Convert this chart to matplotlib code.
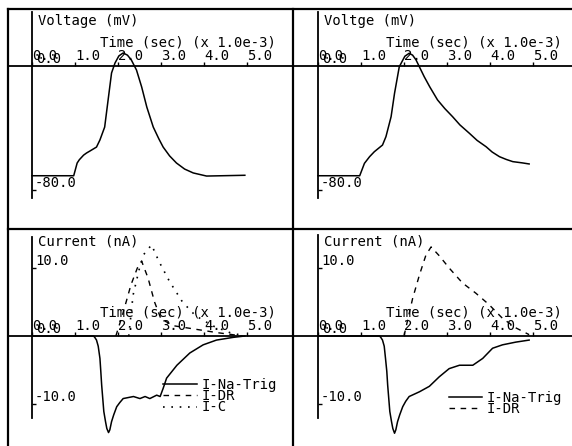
import numpy as np
import matplotlib
matplotlib.use("Agg")
import matplotlib.pyplot as plt
from matplotlib.lines import Line2D

plt.rcParams['font.family'] = ['DejaVu Sans Mono']
plt.rcParams['font.size'] = 10

# ---- data (time in ms, voltage in mV, current in nA) ----
t_v1 = [0.0, 0.97, 1.05, 1.1, 1.2, 1.27, 1.35, 1.5, 1.58, 1.69, 1.77, 1.85, 1.93, 2.02, 2.12,
        2.22, 2.31, 2.43, 2.55, 2.67, 2.82, 2.95, 3.05, 3.2, 3.36, 3.55, 3.75, 4.06, 4.95]
v1 = [-70.8, -70.8, -62.6, -60.5, -57.5, -56.1, -54.8, -52.3, -47.7, -39.4, -21.9, -4.5, 1.9,
      6.5, 8.4, 7.0, 3.9, -2.6, -13.5, -26.5, -39.4, -47.0, -52.3, -58.0, -62.6, -66.5, -69.0,
      -71.0, -70.5]

t_v2 = [0.0, 0.97, 1.08, 1.2, 1.31, 1.5, 1.58, 1.7, 1.78, 1.89, 2.02, 2.12, 2.2, 2.28, 2.47,
        2.6, 2.78, 2.95, 3.13, 3.3, 3.52, 3.7, 3.91, 4.05, 4.22, 4.38, 4.53, 4.75, 4.91]
v2 = [-70.8, -70.8, -62.8, -58.5, -55.3, -51.0, -45.6, -32.7, -17.6, -0.5, 6.3, 8.2, 7.0, 3.9,
      -6.9, -13.5, -21.9, -27.5, -32.7, -38.0, -43.4, -48.0, -52.1, -55.5, -58.5, -60.3, -61.7,
      -62.5, -63.2]

t_na1 = [0.0, 1.43, 1.46, 1.50, 1.54, 1.58, 1.60, 1.62, 1.67, 1.71, 1.74, 1.78, 1.81, 1.85,
         1.90, 1.97, 2.04, 2.12, 2.36, 2.51, 2.63, 2.74, 2.90, 2.98, 3.05, 3.13, 3.37, 3.67,
         3.98, 4.29, 4.68, 4.95]
na1 = [0.0, 0.0, -0.2, -0.6, -1.5, -3.3, -5.2, -7.2, -11.1, -12.6, -13.6, -14.2, -13.8, -12.6,
       -11.6, -10.4, -9.8, -9.2, -8.9, -9.2, -8.9, -9.2, -8.7, -8.9, -7.7, -6.2, -4.3, -2.5,
       -1.3, -0.6, -0.2, 0.0]
t_dr1 = [1.95, 2.1, 2.3, 2.45, 2.55, 2.7, 2.85, 3.0, 3.3, 3.8, 4.3, 4.9]
dr1 = [0.0, 3.0, 7.5, 10.0, 11.0, 8.5, 5.0, 2.5, 1.5, 1.0, 0.5, 0.0]
t_c1 = [2.25, 2.35, 2.5, 2.6, 2.78, 2.95, 3.2, 3.5, 3.8, 4.2, 4.6, 4.95]
c1 = [0.0, 6.0, 10.0, 12.0, 13.4, 11.0, 8.0, 5.0, 3.0, 1.5, 0.5, 0.0]

t_na2 = [0.0, 1.43, 1.46, 1.50, 1.54, 1.57, 1.60, 1.62, 1.67, 1.71, 1.74, 1.78, 1.81, 1.85,
         1.90, 1.97, 2.04, 2.12, 2.36, 2.59, 2.82, 3.05, 3.29, 3.6, 3.83, 4.06, 4.29, 4.6, 4.91]
na2 = [0.0, 0.0, -0.2, -0.6, -1.5, -3.3, -5.2, -7.2, -11.1, -12.6, -13.6, -14.3, -13.8, -12.6,
       -11.6, -10.4, -9.6, -8.9, -8.2, -7.4, -6.0, -4.8, -4.3, -4.3, -3.3, -1.8, -1.3, -0.9,
       -0.6]
t_dr2 = [2.0, 2.2, 2.36, 2.51, 2.63, 2.82, 3.05, 3.36, 3.67, 3.98, 4.29, 4.6, 4.91]
dr2 = [0.0, 5.5, 9.0, 11.9, 13.1, 11.8, 10.0, 7.8, 6.3, 4.6, 2.6, 1.2, 0.2]

x_ticks = [0.0, 1.0, 2.0, 3.0, 4.0, 5.0]
v_ticks = [-80.0]
i_ticks = [10.0, -10.0]

W, H = 572, 446
fig = plt.figure(figsize=(W / 100, H / 100), dpi=100)

PXMS = 43.0  # pixels per ms on the time axis


def make_ax(x0, x1, y0, y1, xaxis_px, zero_px, px_per_unit, ybounds_px):
    ax = fig.add_axes([x0 / W, 1 - y1 / H, (x1 - x0) / W, (y1 - y0) / H])
    ax.set_xlim((x0 - xaxis_px) / PXMS, (x1 - xaxis_px) / PXMS)
    ax.set_ylim((zero_px - y1) / px_per_unit, (zero_px - y0) / px_per_unit)
    ax.patch.set_visible(False)
    for s in ['top', 'right']:
        ax.spines[s].set_visible(False)
    ax.spines['left'].set_position(('data', 0))
    ax.spines['bottom'].set_position(('data', 0))
    ax.spines['left'].set_bounds((zero_px - ybounds_px[1]) / px_per_unit,
                                 (zero_px - ybounds_px[0]) / px_per_unit)
    for s in ['left', 'bottom']:
        ax.spines[s].set_linewidth(1.3)
    ax.tick_params(direction='in', length=3, width=1, labelbottom=False, labelleft=False)
    ax.set_xticks(x_ticks)
    return ax


def decorate(ax, title, yticks):
    for xt in x_ticks:
        ax.annotate('%.1f' % xt, xy=(xt, 0), xytext=(0, 3), textcoords='offset pixels',
                    ha='left', va='bottom')
    # y-axis "0.0" label printed over the x one
    ax.annotate('0.0', xy=(0, 0), xytext=(4, 0), textcoords='offset pixels',
                ha='left', va='bottom')
    ax.set_yticks(yticks)
    for yt in yticks:
        ax.annotate('%.1f' % yt, xy=(0, yt), xytext=(3, 0), textcoords='offset pixels',
                    ha='left', va='bottom')
    ax.annotate('Time (sec) (x 1.0e-3)', xy=(0, 0), xytext=(68, 17),
                textcoords='offset pixels', ha='left', va='bottom')
    ax.annotate(title, xy=(0, 1), xycoords=('data', 'axes fraction'), xytext=(6, -12.5),
                textcoords='offset pixels', ha='left', va='center')


ax1 = make_ax(8, 293, 9, 229, 32, 66, 1.55, (12, 198))
ax2 = make_ax(293, 572, 9, 229, 318, 66, 1.55, (12, 198))
ax3 = make_ax(8, 293, 229, 446, 32, 336, 6.8, (237, 418))
ax4 = make_ax(293, 572, 229, 446, 318, 336, 6.8, (235, 418))

decorate(ax1, 'Voltage (mV)', v_ticks)
decorate(ax2, 'Voltge (mV)', v_ticks)
decorate(ax3, 'Current (nA)', i_ticks)
decorate(ax4, 'Current (nA)', i_ticks)

ax1.plot(t_v1, v1, color='black', lw=1.1)
ax2.plot(t_v2, v2, color='black', lw=1.1)

ax3.plot(t_na1, na1, color='black', lw=1.1, label='I-Na-Trig')
ax3.plot(t_dr1, dr1, color='black', lw=1.0, ls=(0, (4, 4)), label='I-DR')
ax3.plot(t_c1, c1, color='black', lw=1.2, ls=(0, (1, 4)), label='I-C')
ax4.plot(t_na2, na2, color='black', lw=1.1, label='I-Na-Trig')
ax4.plot(t_dr2, dr2, color='black', lw=1.0, ls=(0, (4, 4)), label='I-DR')

for ax, x0, x1, top_px in [(ax3, 8, 293, 378), (ax4, 293, 572, 391)]:
    ax.legend(loc='upper left', frameon=False, handlelength=2.4, handletextpad=0.35,
              labelspacing=-0.2, borderpad=0, borderaxespad=0,
              bbox_to_anchor=(155.5 / (x1 - x0), 1 - (top_px - 229) / 217))

# frame lines of the plotter sheet
for xs, ys in [([8, 8], [9, 446]), ([8, 572], [9, 9]), ([293, 293], [9, 446]),
               ([8, 572], [229, 229])]:
    fig.add_artist(Line2D([x / W for x in xs], [1 - y / H for y in ys],
                          color='black', lw=1.6))

fig.savefig('out.png', dpi=100)
